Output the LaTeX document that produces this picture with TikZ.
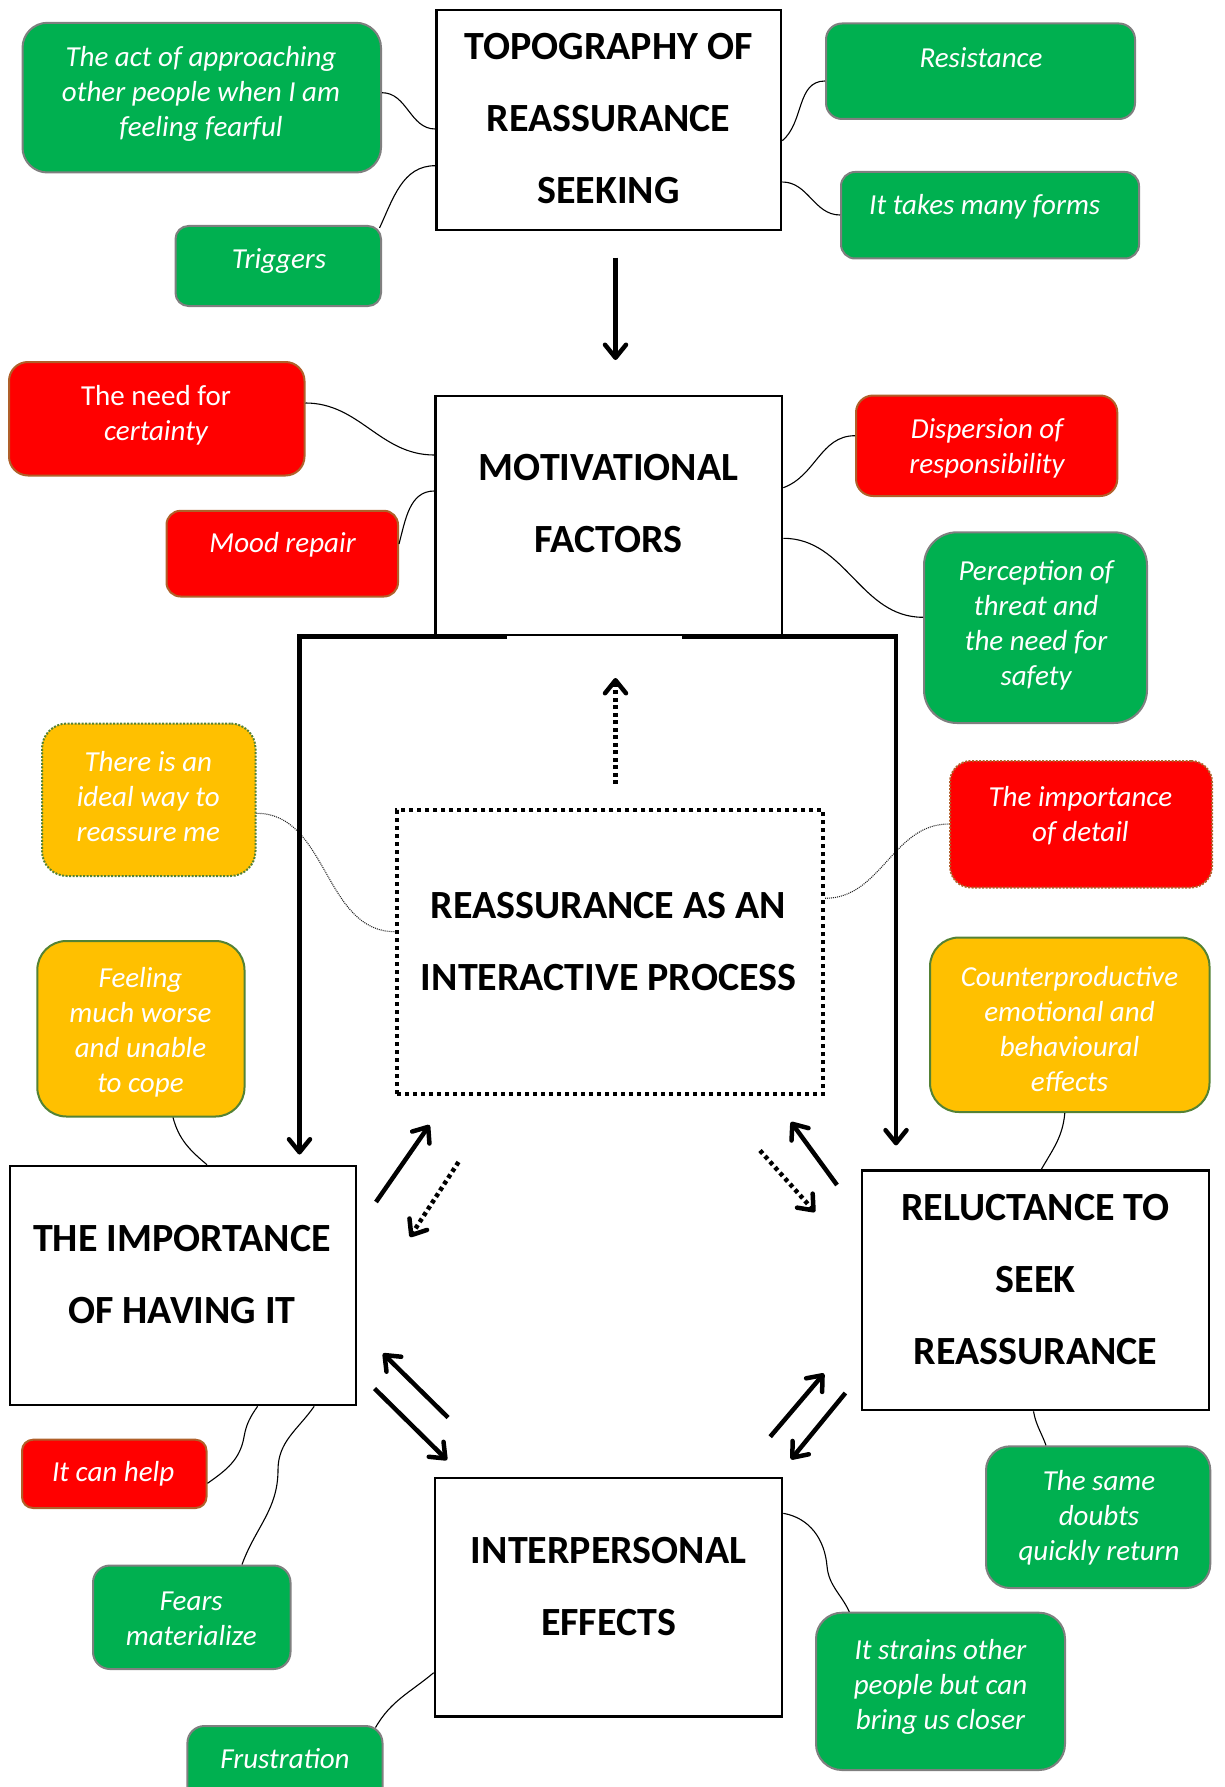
\documentclass[tikz,border=0pt]{standalone}
\usepackage{fontspec}
\setmainfont{Carlito}
\usetikzlibrary{arrows.meta}
\definecolor{gfill}{HTML}{00B050}
\definecolor{gline}{HTML}{7F7F7F}
\definecolor{rfill}{HTML}{FF0000}
\definecolor{rline}{HTML}{B0602A}
\definecolor{yfill}{HTML}{FFC000}
\definecolor{yline}{HTML}{548235}
\begin{document}
\begin{tikzpicture}[x=1pt,y=1pt,
  mainbox/.style={draw=black, line width=2.6pt, fill=white, inner sep=0pt},
  sub/.style={line width=2pt, inner sep=0pt},
  gbox/.style={sub, draw=gline, fill=gfill},
  rbox/.style={sub, draw=rline, fill=rfill},
  ybox/.style={sub, draw=yline, fill=yfill},
  dotborder/.style={dash pattern=on 2pt off 1.5pt},
  head/.style={font=\fontsize{40}{72}\selectfont\bfseries, align=center, inner sep=0pt},
  subtxt/.style={font=\fontsize{29}{35}\selectfont\itshape, text=white, align=center, inner sep=0pt},
  link/.style={line width=1.1pt},
  dlink/.style={line width=1.1pt, black!85, dash pattern=on 1pt off 1pt},
  tharrow/.style={line width=4.5pt, -{Straight Barb[length=13pt,width=21pt,round]}},
  dtharrow/.style={tharrow, dash pattern=on 4pt off 3.5pt},
  thline/.style={line width=4.5pt, -{Straight Barb[length=13pt,width=21pt,round]}},
]
\useasboundingbox (0,0) rectangle (1224,-1787);
\clip (0,0) rectangle (1224,-1787);

% ---------- main boxes ----------
\node[mainbox, minimum width=344.5pt, minimum height=220pt] (topo) at (608.75,-120) {};
\node[mainbox, minimum width=346.5pt, minimum height=239pt] (motiv) at (608.75,-515.5) {};
\node[draw=black, line width=4pt, dash pattern=on 4pt off 4pt, fill=white, inner sep=0pt,
      minimum width=426pt, minimum height=284pt] (inter) at (610,-952) {};
\node[mainbox, minimum width=346pt, minimum height=239pt] (impo) at (183,-1285.5) {};
\node[mainbox, minimum width=347pt, minimum height=239.5pt] (reluc) at (1035.5,-1290.25) {};
\node[mainbox, minimum width=347pt, minimum height=238.5pt] (interp) at (608.5,-1597.25) {};

% ---------- satellite boxes ----------
\node[gbox, minimum width=358.5pt, minimum height=149.7pt, rounded corners=25pt] (act) at (201.75,-97.65) {};
\node[gbox, minimum width=205.5pt, minimum height=80pt, rounded corners=13pt] (trig) at (278.25,-266) {};
\node[gbox, minimum width=309pt, minimum height=95.5pt, rounded corners=16pt] (resist) at (980.5,-71.25) {};
\node[gbox, minimum width=298pt, minimum height=86.5pt, rounded corners=14pt] (forms) at (990,-215.25) {};
\node[rbox, minimum width=295.5pt, minimum height=113.5pt, rounded corners=19pt] (need) at (156.75,-418.75) {};
\node[rbox, minimum width=231.5pt, minimum height=85.7pt, rounded corners=14pt] (mood) at (282.25,-553.65) {};
\node[rbox, minimum width=261.3pt, minimum height=100.5pt, rounded corners=17pt] (disp) at (986.65,-445.75) {};
\node[gbox, minimum width=223pt, minimum height=190.7pt, rounded corners=33pt] (percep) at (1035.5,-627.65) {};
\node[ybox, dotborder, minimum width=213.5pt, minimum height=152.5pt, rounded corners=25pt] (ideal) at (148.75,-799.75) {};
\node[ybox, minimum width=207.2pt, minimum height=175.5pt, rounded corners=29pt] (feel) at (140.9,-1028.75) {};
\node[rbox, dotborder, minimum width=262pt, minimum height=126.5pt, rounded corners=21pt] (detail) at (1081,-824.25) {};
\node[ybox, minimum width=279.5pt, minimum height=174.5pt, rounded corners=29pt] (counter) at (1069.75,-1024.75) {};
\node[rbox, minimum width=184.5pt, minimum height=68.3pt, rounded corners=11pt] (help) at (114.25,-1473.85) {};
\node[gbox, minimum width=197.5pt, minimum height=103.5pt, rounded corners=17pt] (fears) at (191.75,-1617.25) {};
\node[gbox, minimum width=195.1pt, minimum height=104pt, rounded corners=17pt] (frust) at (284.95,-1778) {};
\node[gbox, minimum width=224.3pt, minimum height=141.7pt, rounded corners=24pt] (doubts) at (1098.15,-1517.15) {};
\node[gbox, minimum width=249pt, minimum height=157.3pt, rounded corners=26pt] (strains) at (940.5,-1691.35) {};

% ---------- thin connectors ----------
\draw[link] (act.east |- 0,-92.7) to[out=0,in=180] (topo.west |- 0,-129);
\draw[link] ([xshift=-2.5pt,yshift=-3pt]trig.north east) to[out=65,in=180] (topo.west |- 0,-165.7);
\draw[link] (topo.east |- 0,-140.7) to[out=40,in=180] (resist.west |- 0,-81);
\draw[link] (topo.east |- 0,-182) to[out=0,in=180] (forms.west |- 0,-215);
\draw[link] (need.east |- 0,-403) to[out=0,in=180] (motiv.west |- 0,-455);
\draw[link] (mood.east |- 0,-544) to[out=75,in=180] (motiv.west |- 0,-491);
\draw[link] (motiv.east |- 0,-487.7) to[out=20,in=180] (disp.west |- 0,-435.7);
\draw[link] (motiv.east |- 0,-538.3) to[out=0,in=180] (percep.west |- 0,-617.3);
\draw[dlink] (ideal.east |- 0,-813.3) to[out=0,in=180] (inter.west |- 0,-931.7);
\draw[dlink] (inter.east |- 0,-898.3) to[out=0,in=180] (detail.west |- 0,-824);
\draw[link] (feel.south -| 173,0) to[out=-75,in=140] (impo.north -| 207,0);
\draw[link] (counter.south -| 1064.8,0) to[out=-95,in=60] (reluc.north -| 1041.4,0);
\draw[link] (help.east |- 0,-1483.3) to[out=35,in=-100] (244,-1437) to[out=80,in=-125] (impo.south -| 257.6,0);
\draw[link] (impo.south -| 314.2,0) to[out=-125,in=90] (278,-1470) to[out=-90,in=70] (fears.north -| 242,0);
\draw[link] (reluc.south -| 1033.5,0) to[out=-80,in=110] (doubts.north -| 1046,0);
\draw[link] (interp.east |- 0,-1513.3) to[out=-10,in=95] (827,-1566) to[out=-85,in=115] (strains.north -| 849.3,0);
\draw[link] (interp.west |- 0,-1672.7) to[out=220,in=60] ([xshift=-8pt,yshift=-2.5pt]frust.north east);

% ---------- thick arrows ----------
\coordinate (a1s) at (615.5,-257.6);  \coordinate (a1e) at (615.5,-360);
\coordinate (a2s) at (615.5,-784);    \coordinate (a2e) at (615.5,-678);
\coordinate (a3e) at (299.5,-1154.5);
\coordinate (a4e) at (896,-1145.4);
\coordinate (a5s) at (376,-1202);     \coordinate (a5e) at (429.5,-1125);
\coordinate (a6s) at (458.5,-1162);   \coordinate (a6e) at (410,-1237);
\coordinate (a7s) at (837,-1185);     \coordinate (a7e) at (791,-1122);
\coordinate (a8s) at (760,-1150.5);   \coordinate (a8e) at (815,-1212);
\coordinate (a9s) at (448,-1417.5);   \coordinate (a9e) at (383,-1353.5);
\coordinate (a10s) at (374.5,-1388.5);\coordinate (a10e) at (447,-1460);
\coordinate (a11s) at (770.2,-1436.7);\coordinate (a11e) at (824,-1373.5);
\coordinate (a12s) at (845.4,-1393);  \coordinate (a12e) at (791,-1459.4);

\draw[tharrow] (a1s) -- (a1e);
\draw[dtharrow] (a2s) -- (a2e);
\draw[thline] (motiv.south -| 507,0) -| (a3e);
\draw[thline] (motiv.south -| 682,0) -| (a4e);
\draw[tharrow] (a5s) -- (a5e);
\draw[dtharrow] (a6s) -- (a6e);
\draw[tharrow] (a7s) -- (a7e);
\draw[dtharrow] (a8s) -- (a8e);
\draw[tharrow] (a9s) -- (a9e);
\draw[tharrow] (a10s) -- (a10e);
\draw[tharrow] (a11s) -- (a11e);
\draw[tharrow] (a12s) -- (a12e);

% ---------- headings ----------
\node[head] (topo-t) at (608.6,-119) {TOPOGRAPHY OF\\REASSURANCE\\SEEKING};
\node[head] (motiv-t) at (608.6,-504) {MOTIVATIONAL\\FACTORS};
\node[head] (inter-t) at (608.6,-942) {REASSURANCE AS AN\\INTERACTIVE PROCESS};
\node[head] (impo-t) at (182,-1275) {THE IMPORTANCE\\OF HAVING IT};
\node[head] (reluc-t) at (1035.5,-1280) {RELUCTANCE TO\\SEEK\\REASSURANCE};
\node[head] (interp-t) at (608.6,-1586.5) {INTERPERSONAL\\EFFECTS};

% ---------- satellite texts ----------
\node[subtxt] (act-t) at (201,-93.5) {The act of approaching\\other people when I am\\feeling fearful};
\node[subtxt] (trig-t) at (279,-261) {Triggers};
\node[subtxt] (resist-t) at (981,-58) {Resistance};
\node[subtxt] (forms-t) at (984.7,-207) {It takes many forms};
\node[subtxt] (need-t) at (156,-415) {{\upshape The need for}\\certainty};
\node[subtxt] (mood-t) at (282.6,-545) {Mood repair};
\node[subtxt] (disp-t) at (987,-448.5) {Dispersion of\\responsibility};
\node[subtxt] (percep-t) at (1036,-625) {Perception of\\threat and\\the need for\\safety};
\node[subtxt] (ideal-t) at (148.3,-796.7) {There is an\\ideal way to\\reassure me};
\node[subtxt] (feel-t) at (140.5,-1032.5) {Feeling\\much worse\\and unable\\to cope};
\node[subtxt] (detail-t) at (1080.4,-815.8) {The importance\\of detail};
\node[subtxt] (counter-t) at (1069.5,-1029.2) {Counterproductive\\emotional and\\behavioural\\effects};
\node[subtxt] (help-t) at (113.2,-1473.7) {It can help};
\node[subtxt] (fears-t) at (191.3,-1618.3) {Fears\\materialize};
\node[subtxt] (frust-t) at (285,-1759) {Frustration};
\node[subtxt] (doubts-t) at (1099,-1518.2) {The same\\doubts\\quickly return};
\node[subtxt] (strains-t) at (940.5,-1686.7) {It strains other\\people but can\\bring us closer};
\end{tikzpicture}
\end{document}
